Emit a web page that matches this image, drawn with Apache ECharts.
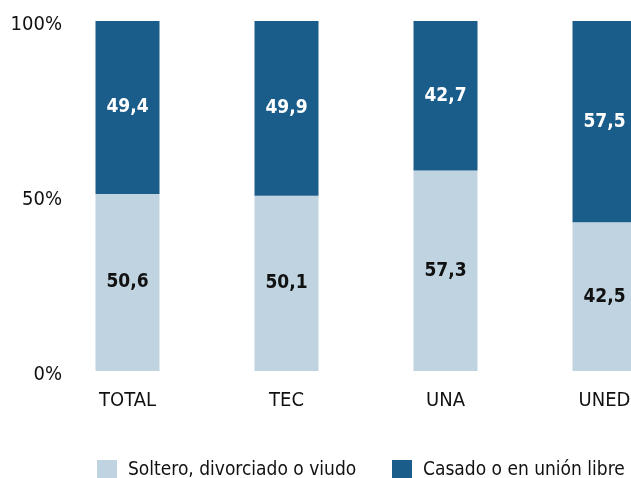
<!DOCTYPE html>
<html>
<head>
<meta charset="utf-8">
<script src="https://cdn.jsdelivr.net/npm/echarts@6/dist/echarts.min.js"></script>
<style>
  html, body { margin: 0; padding: 0; background: #fff; }
  #chart { width: 631px; height: 478px; }
</style>
</head>
<body>
<div id="chart"></div>
<script>
const categories = ['TOTAL', 'TEC', 'UNA', 'UNED'];
const soltero = [50.6, 50.1, 57.3, 42.5];
const casado = [49.4, 49.9, 42.7, 57.5];
const seriesNames = ['Soltero, divorciado o viudo', 'Casado o en unión libre'];
const yTicks = [0, 50, 100];

const font = '"DejaVu Sans Condensed", "Liberation Sans", sans-serif';
const fmt = p => p.value.toFixed(1).replace('.', ',');

const legendText = { fontSize: 19, color: '#111', fontFamily: font, padding: [6, 0, 0, 6] };

const chart = echarts.init(document.getElementById('chart'));
const option = {
  animation: false,
  textStyle: { fontFamily: font },
  grid: { left: 48, width: 636, top: 21, bottom: 107, outerBoundsMode: 'none' },
  legend: [
    { left: 97, top: 460, padding: 0, itemWidth: 20, itemHeight: 20, icon: 'rect', textStyle: legendText, data: [seriesNames[0]] },
    { left: 392, top: 460, padding: 0, itemWidth: 20, itemHeight: 20, icon: 'rect', textStyle: legendText, data: [seriesNames[1]] }
  ],
  xAxis: {
    type: 'category',
    data: categories,
    axisLine: { show: false },
    axisTick: { show: false },
    axisLabel: { fontSize: 20, color: '#111', margin: 20, fontFamily: font }
  },
  yAxis: {
    type: 'value',
    min: 0,
    max: 100,
    interval: 50,
    splitLine: { show: false },
    axisLine: { show: false },
    axisTick: { show: false },
    axisLabel: {
      fontSize: 20,
      color: '#111',
      margin: -14,
      verticalAlign: 'top',
      lineHeight: 8,
      fontFamily: font,
      formatter: v => yTicks.includes(v) ? v + '%' : ''
    }
  },
  series: [
    {
      name: seriesNames[0],
      type: 'bar',
      stack: 'a',
      barWidth: 64,
      data: soltero,
      itemStyle: { color: '#bfd3e0' },
      label: {
        show: true,
        position: 'inside',
        color: '#111',
        fontSize: 19,
        fontWeight: 'bold',
        fontFamily: font,
        formatter: fmt
      }
    },
    {
      name: seriesNames[1],
      type: 'bar',
      stack: 'a',
      barWidth: 64,
      data: casado,
      itemStyle: { color: '#1b5d8a' },
      label: {
        show: true,
        position: 'inside',
        color: '#fff',
        fontSize: 19,
        fontWeight: 'bold',
        fontFamily: font,
        formatter: fmt
      }
    }
  ]
};
chart.setOption(option);
</script>
</body>
</html>
